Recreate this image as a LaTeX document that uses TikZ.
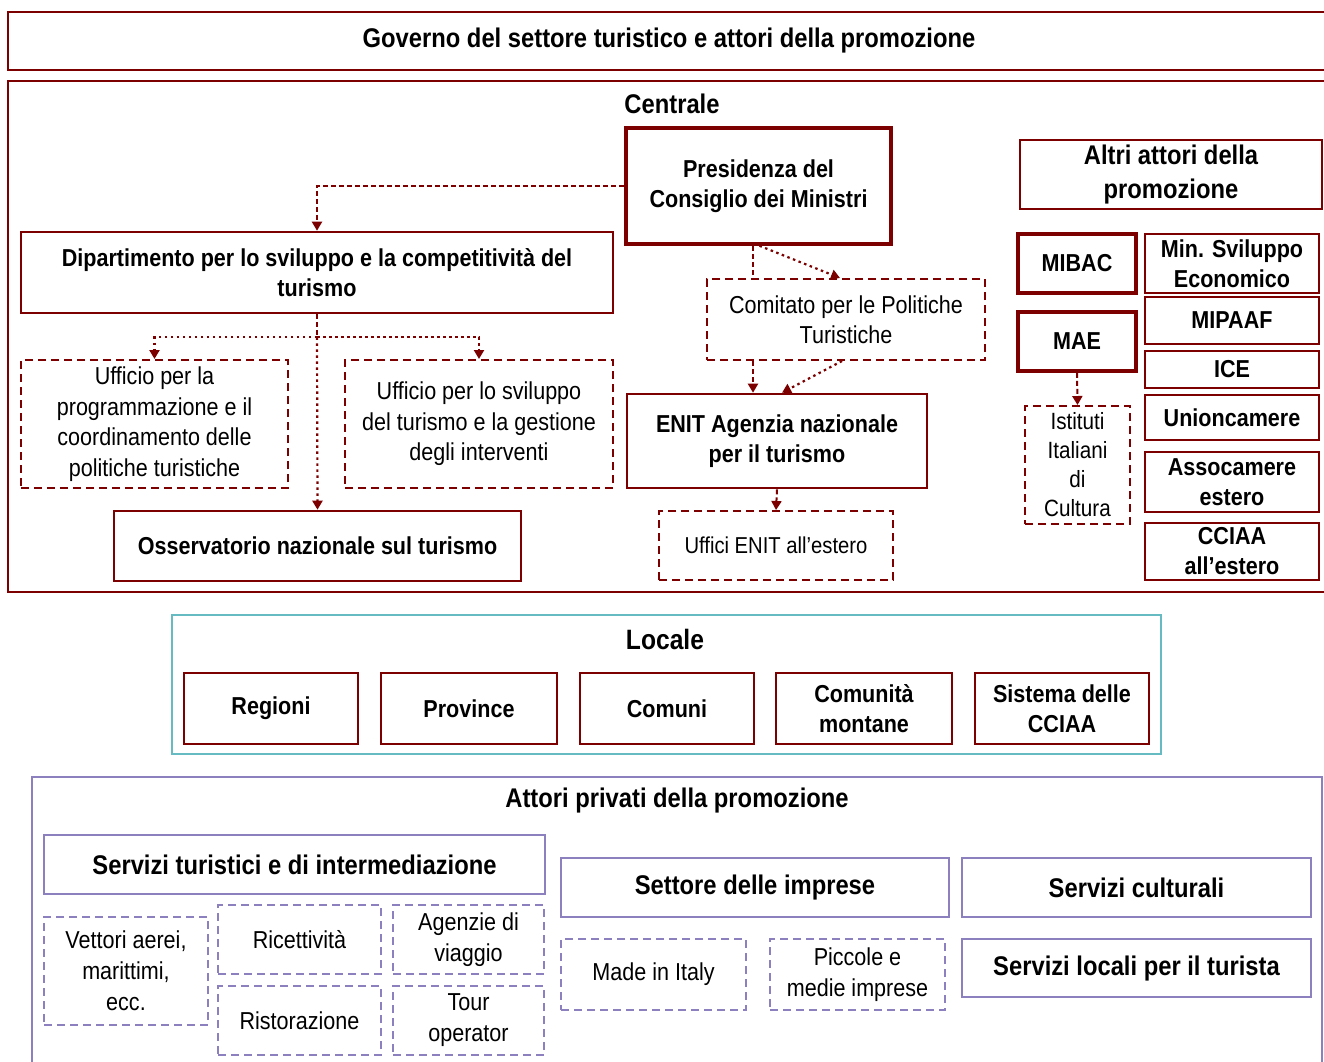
\documentclass[tikz,border=0pt]{standalone}
\usepackage{fontspec}
\setmainfont{Liberation Sans}[FakeStretch=0.88]
\usetikzlibrary{arrows.meta,calc}
\definecolor{dred}{RGB}{125,0,0}
\definecolor{teal2}{RGB}{102,186,194}
\definecolor{lav}{RGB}{140,128,190}
\newcommand\bx[7]{\node[#2, minimum width={(#5-#3)*1pt}, minimum height={(#6-#4)*1pt}] (#1) at ({(#3+#5)/2},{(#4+#6)/2}) {#7};}
\tikzset{
  base/.style={rectangle, align=center, inner sep=1pt, text=black},
  redbox/.style={base, draw=dred, line width=2.6pt, font=\fontsize{24.5}{30}\selectfont\bfseries},
  redthick/.style={redbox, line width=3.6pt},
  reddash/.style={base, draw=dred, line width=2pt, dash pattern=on 8pt off 5pt, font=\fontsize{24.5}{30.5}\selectfont},
  lavbox/.style={base, draw=lav, line width=2.4pt, font=\fontsize{27}{32}\selectfont\bfseries},
  lavdash/.style={base, draw=lav, line width=2pt, dash pattern=on 8pt off 5pt, font=\fontsize{24.5}{31}\selectfont},
  tip/.style={-{Triangle[width=10pt,length=9pt]}},
  connD/.style={draw=dred, line width=2pt, dash pattern=on 5pt off 3pt},
  connO/.style={draw=dred, line width=2.2pt, dash pattern=on 2.5pt off 3.5pt},
  lbl/.style={font=\fontsize{27}{30}\selectfont\bfseries, inner sep=0pt}
}
\begin{document}
\begin{tikzpicture}[x=1pt,y=-1pt]
\useasboundingbox[fill=white] (0,0) rectangle (1324,1061);
\clip (0,0) rectangle (1324,1061);
% title
\bx{title}{redbox, line width=2.4pt, font=\fontsize{27}{32}\selectfont\bfseries}{8}{12}{1330}{70}{Governo del settore turistico e attori della promozione}
% central frame
\bx{central}{base, draw=dred, line width=2.4pt}{8}{81}{1330}{592}{}
\node[lbl] (centlbl) at (672,104) {Centrale};
\bx{pres}{redthick}{626}{128}{891}{244}{Presidenza del\\Consiglio dei Ministri}
\bx{dip}{redbox}{21}{232}{613}{313}{Dipartimento per lo sviluppo e la competitività del\\turismo}
\bx{uf1}{reddash}{21}{360}{288}{488}{Ufficio per la\\programmazione e il\\coordinamento delle\\politiche turistiche}
\bx{uf2}{reddash}{345}{360}{613}{488}{Ufficio per lo sviluppo\\del turismo e la gestione\\degli interventi}
\bx{oss}{redbox}{114}{511}{521}{581}{Osservatorio nazionale sul turismo}
\bx{com}{reddash}{707}{279}{985}{360}{Comitato per le Politiche\\Turistiche}
\bx{enit}{redbox}{627}{394}{927}{488}{ENIT Agenzia nazionale\\per il turismo}
\bx{uenit}{reddash, font=\fontsize{23}{28}\selectfont}{659}{511}{893}{580}{Uffici ENIT all’estero}
% altri attori
\bx{altri}{redbox, line width=2.2pt, font=\fontsize{27}{34}\selectfont\bfseries}{1020}{140}{1322}{209}{Altri attori della\\promozione}
\bx{mibac}{redthick}{1018}{234}{1136}{293}{MIBAC}
\bx{mae}{redthick}{1018}{312}{1136}{371}{MAE}
\bx{minsv}{redbox}{1145}{234}{1319}{293}{Min. Sviluppo\\Economico}
\bx{mipaaf}{redbox}{1145}{297}{1319}{344}{MIPAAF}
\bx{ice}{redbox}{1145}{351}{1319}{388}{ICE}
\bx{union}{redbox}{1145}{395}{1319}{440}{Unioncamere}
\bx{assoc}{redbox}{1145}{452}{1319}{512}{Assocamere\\estero}
\bx{cciaa}{redbox}{1145}{523}{1319}{580}{CCIAA\\all’estero}
\bx{ist}{reddash, font=\fontsize{23.5}{29}\selectfont}{1025}{406}{1130}{524}{Istituti\\Italiani\\di\\Cultura}
% connectors central
\draw[connD, tip] (pres.west) -| (dip.north);
\coordinate (j1) at ($(dip.south)+(0,23)$);
\draw[connD] (dip.south) -- (j1);
\draw[connO, tip] (j1) -| (uf1.north);
\draw[connO, tip] (j1) -| (uf2.north);
\draw[connO, tip] (j1) -- (oss.north);
\draw[connD] ([xshift=-5.5pt]pres.south) -- ([xshift=-5.5pt]pres.south |- com.north);
\draw[connO, tip] ([xshift=1pt]pres.south) -- ([xshift=-6pt]com.north);
\draw[connD, tip] ([xshift=-93pt]com.south) -- ([xshift=-93pt]com.south |- enit.north);
\draw[connO, tip] ([xshift=-4pt]com.south) -- ([xshift=5pt]enit.north);
\draw[connD, tip] (enit.south) -- (uenit.north);
\draw[connD, tip] (mae.south) -- (ist.north);
% locale
\bx{locale}{base, draw=teal2, line width=2.4pt}{172}{615}{1161}{754}{}
\node[lbl, font=\fontsize{28}{30}\selectfont\bfseries] (loclbl) at (665,639) {Locale};
\bx{reg}{redbox}{184}{673}{358}{744}{Regioni}
\bx{prov}{redbox}{381}{673}{557}{744}{Province}
\bx{comuni}{redbox}{580}{673}{754}{744}{Comuni}
\bx{comm}{redbox}{776}{673}{952}{744}{Comunità\\montane}
\bx{sist}{redbox}{975}{673}{1149}{744}{Sistema delle\\CCIAA}
% privati
\draw[lav, line width=2pt] (32,1070) -- (32,777) -- (1322,777) -- (1322,1070);
\node[lbl] (privlbl) at (677,801) {Attori privati della promozione};
\bx{servt}{lavbox}{44}{835}{545}{894}{Servizi turistici e di intermediazione}
\bx{vett}{lavdash}{44}{917}{208}{1025}{Vettori aerei,\\marittimi,\\ecc.}
\bx{ricet}{lavdash}{218}{905}{381}{974}{Ricettività}
\bx{agenz}{lavdash}{393}{905}{544}{974}{Agenzie di\\viaggio}
\bx{risto}{lavdash}{218}{986}{381}{1055}{Ristorazione}
\bx{tour}{lavdash}{393}{986}{544}{1055}{Tour\\operator}
\bx{sett}{lavbox}{561}{858}{949}{917}{Settore delle imprese}
\bx{cult}{lavbox}{962}{858}{1311}{917}{Servizi culturali}
\bx{made}{lavdash}{561}{939}{746}{1010}{Made in Italy}
\bx{picc}{lavdash}{770}{939}{945}{1010}{Piccole e\\medie imprese}
\bx{loc}{lavbox}{962}{939}{1311}{997}{Servizi locali per il turista}
\end{tikzpicture}
\end{document}
